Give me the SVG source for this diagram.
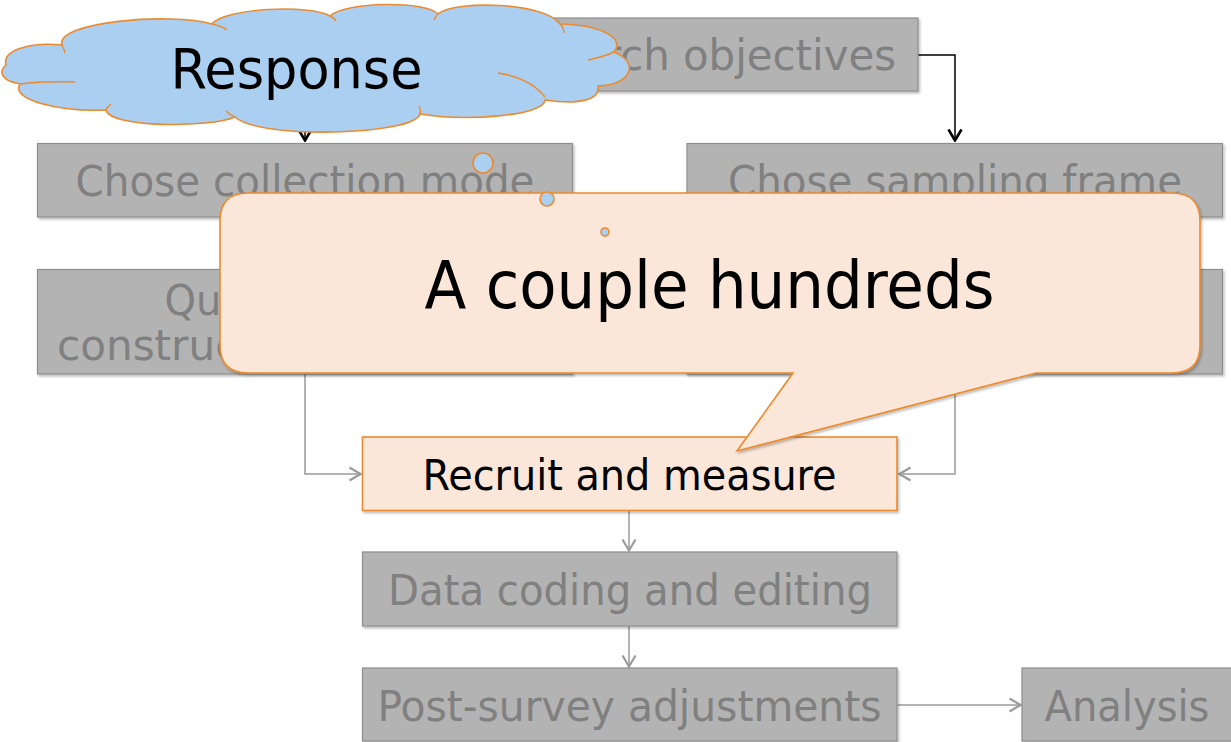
<svg xmlns="http://www.w3.org/2000/svg" width="1231" height="742" viewBox="0 0 1231 742">
  <style>
    .box { fill: #b3b3b3; stroke: #8e8e8e; stroke-width: 1.2; filter: url(#shadow); }
    .hot { fill: #fbe7da; stroke: #ec8a2e; stroke-width: 1.6; }
    .lbl { font-family: "DejaVu Sans Condensed", "DejaVu Sans", sans-serif; font-stretch: condensed; font-size: 43px; fill: #808080; }
    .dark { fill: #000000; }
    .big { font-size: 66px; }
    .mid { font-size: 55px; }
    .wire { fill: none; stroke: #9b9b9b; stroke-width: 1.5; }
    .wire-b { fill: none; stroke: #000000; stroke-width: 1.5; }
    .cloud { fill: #abcff0; stroke: #ec8a2e; stroke-width: 1.6; }
    .arc { fill: none; stroke: #ec8a2e; stroke-width: 1.4; }
  </style>
  <defs>
    <filter id="shadow" x="-5%" y="-10%" width="110%" height="130%">
      <feDropShadow dx="1.5" dy="2" stdDeviation="1.2" flood-color="#000" flood-opacity="0.25"/>
    </filter>
    <marker id="vGray" markerUnits="userSpaceOnUse" viewBox="0 0 14 16" refX="13" refY="8" markerWidth="14" markerHeight="16" orient="auto">
      <path d="M1.5,1.5 L12.5,8 L1.5,14.5" fill="none" stroke="#9b9b9b" stroke-width="2.2"/>
    </marker>
    <marker id="vBlack" markerUnits="userSpaceOnUse" viewBox="0 0 14 16" refX="13" refY="8" markerWidth="14" markerHeight="16" orient="auto">
      <path d="M1.5,1.5 L12.5,8 L1.5,14.5" fill="none" stroke="#000" stroke-width="2.6"/>
    </marker>
  </defs>

  <rect width="1231" height="742" fill="#ffffff"/>

  <!-- connectors -->
  <g id="connectors">
    <path class="wire-b" d="M918,55 H955 V141" marker-end="url(#vBlack)"/>
    <path class="wire-b" d="M383,55 H305 V141" marker-end="url(#vBlack)"/>
    <path class="wire" d="M305,374 V474 H361" marker-end="url(#vGray)"/>
    <path class="wire" d="M955,374 V474 H899" marker-end="url(#vGray)"/>
    <path class="wire" d="M629,511 V551" marker-end="url(#vGray)"/>
    <path class="wire" d="M629,626 V667" marker-end="url(#vGray)"/>
    <path class="wire" d="M897,705 H1021" marker-end="url(#vGray)"/>
  </g>

  <g id="node-objectives">
    <rect class="box" x="383" y="18" width="535" height="73"/>
    <text class="lbl" x="478" y="70" textLength="418" lengthAdjust="spacingAndGlyphs">Research objectives</text>
  </g>

  <g id="node-mode">
    <rect class="box" x="37.5" y="143.5" width="535" height="73.5"/>
    <text class="lbl" x="75.5" y="196" textLength="459" lengthAdjust="spacingAndGlyphs">Chose collection mode</text>
  </g>

  <g id="node-frame">
    <rect class="box" x="687" y="143.5" width="535.5" height="73.5"/>
    <text class="lbl" x="728" y="196" textLength="454" lengthAdjust="spacingAndGlyphs">Chose sampling frame</text>
  </g>

  <g id="node-questionnaire">
    <rect class="box" x="37.5" y="269.5" width="535" height="104.5"/>
    <text class="lbl" x="164.5" y="315" textLength="280" lengthAdjust="spacingAndGlyphs">Questionnaire</text>
    <text class="lbl" x="57" y="360" textLength="262" lengthAdjust="spacingAndGlyphs">construction</text>
  </g>

  <g id="node-sample">
    <rect class="box" x="687" y="269.5" width="535.5" height="104.5"/>
  </g>

  <g id="node-recruit">
    <rect class="hot" x="362.5" y="437" width="534.5" height="73.5" filter="url(#shadow)"/>
    <text class="lbl dark" x="422.5" y="490" textLength="414" lengthAdjust="spacingAndGlyphs">Recruit and measure</text>
  </g>

  <g id="node-coding">
    <rect class="box" x="362.5" y="552" width="534.5" height="74"/>
    <text class="lbl" x="388" y="605" textLength="484" lengthAdjust="spacingAndGlyphs">Data coding and editing</text>
  </g>

  <g id="node-adjust">
    <rect class="box" x="362.5" y="668" width="534.5" height="73"/>
    <text class="lbl" x="377.5" y="720.5" textLength="504" lengthAdjust="spacingAndGlyphs">Post-survey adjustments</text>
  </g>

  <g id="node-analysis">
    <rect class="box" x="1022" y="668" width="220" height="73"/>
    <text class="lbl" x="1044.5" y="720.5" textLength="165" lengthAdjust="spacingAndGlyphs">Analysis</text>
  </g>

  <!-- speech callout -->
  <g id="callout-count">
    <path class="hot" filter="url(#shadow)" d="M248,193 H1172 Q1200,193 1200,221 V345 Q1200,373 1172,373 H1036 L737,451 L793,373 H248 Q220,373 220,345 V221 Q220,193 248,193 Z"/>
    <text class="lbl dark big" x="424.5" y="308" textLength="570" lengthAdjust="spacingAndGlyphs">A couple hundreds</text>
  </g>

  <!-- thought cloud -->
  <g id="cloud-response">
    <path class="cloud" d="M6,65 C2,50 30,42 62,45 C55,22 170,12 212,24 C225,8 310,4 330,16 C345,2 425,0 438,14 C455,0 545,2 560,24 C605,25 625,40 614,52 C640,62 632,85 598,86 C600,100 580,105 545,100 C545,115 470,122 420,114 C415,135 260,140 235,117 C210,128 110,128 106,110 C60,112 10,100 20,84 C-2,80 0,70 6,65 Z"/>
    <path class="arc" d="M62,45 q2,4 3,8 M212,24 q10,2 15,6 M330,16 q4,2 6,5 M438,14 q-3,3 -4,6 M560,24 q4,4 4,9 M614,52 q-8,4 -26,8 M498,73 q32,5 47,24 M420,114 q1,-4 -1,-8 M235,117 q-5,-2 -9,-6 M106,110 q1,-3 5,-6 M20,84 q22,-3 55,-2"/>
    <circle class="cloud" cx="483" cy="163" r="10"/>
    <circle class="cloud" cx="547" cy="199" r="7"/>
    <circle class="cloud" cx="605" cy="232" r="4"/>
    <text class="lbl dark mid" x="170.5" y="88" textLength="252" lengthAdjust="spacingAndGlyphs">Response</text>
  </g>
</svg>
